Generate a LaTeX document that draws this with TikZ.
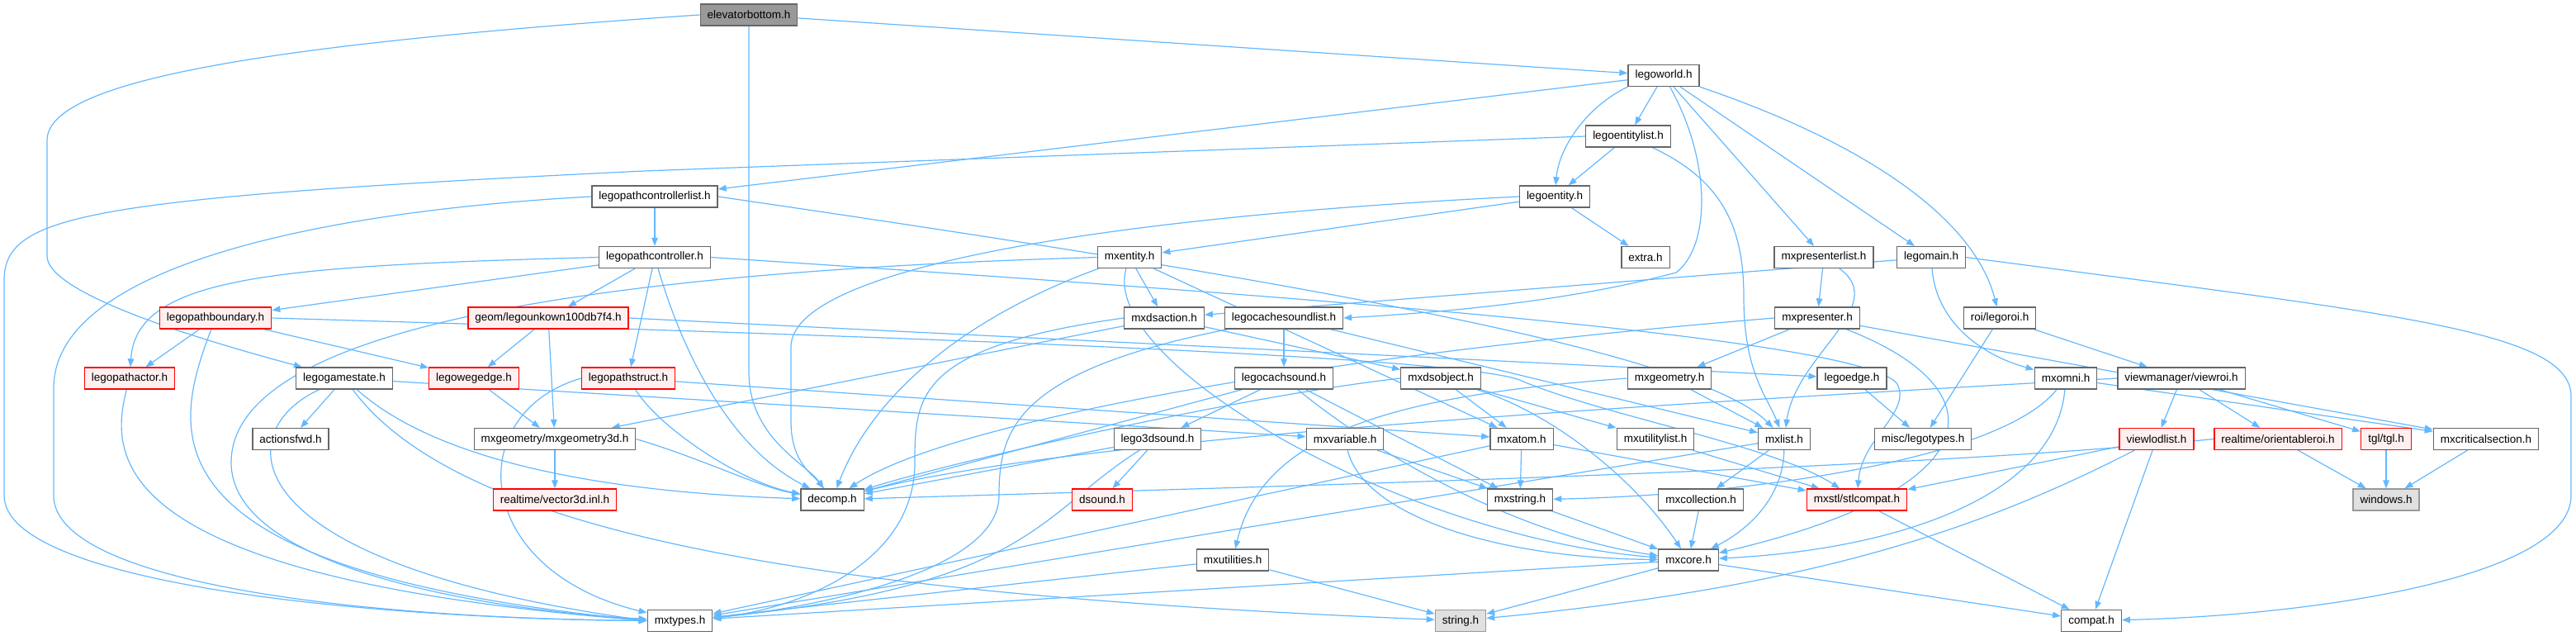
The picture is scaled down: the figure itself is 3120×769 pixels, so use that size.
\documentclass[tikz,border=0pt]{standalone}
\usepackage{fontspec}
\setmainfont{Liberation Sans}
\usetikzlibrary{arrows.meta}
\definecolor{edgec}{HTML}{63B8FF}
\definecolor{bordc}{HTML}{666666}
\definecolor{redfill}{HTML}{FFF0F0}
\definecolor{rootfill}{HTML}{999999}
\definecolor{extfill}{HTML}{E0E0E0}
\definecolor{extbord}{HTML}{999999}
\pgfdeclarelayer{bg}
\pgfsetlayers{bg,main}
\tikzset{
  hbox/.style={draw=bordc, fill=white, line width=1.3pt, minimum height=26pt, inner xsep=8.5pt, inner ysep=0pt, font=\fontsize{13.5pt}{16pt}\selectfont, text=black},
  redbox/.style={hbox, draw=red, fill=redfill},
  rootbox/.style={hbox, fill=rootfill},
  extbox/.style={hbox, draw=extbord, fill=extfill},
  dep/.style={draw=edgec, line width=1.2pt, -{Triangle[length=10pt,width=7.5pt]}},
}
\begin{document}
\begin{tikzpicture}[x=1pt,y=-1pt]
\useasboundingbox (0,0) rectangle (3120,769);
% row 0
\node[rootbox] (eb) at (907,18) {elevatorbottom.h};
% row 1
\node[hbox] (lw) at (2015,91.5) {legoworld.h};
% row 2
\node[hbox] (lel) at (1972,165) {legoentitylist.h};
% row 3
\node[hbox] (lpcl) at (793,238) {legopathcontrollerlist.h};
\node[hbox] (le) at (1883,238) {legoentity.h};
% row 4
\node[hbox] (lpc) at (793,311.5) {legopathcontroller.h};
\node[hbox] (mxe) at (1368,311.5) {mxentity.h};
\node[hbox] (extra) at (1993,311.5) {extra.h};
\node[hbox] (mpl) at (2209,311.5) {mxpresenterlist.h};
\node[hbox] (lm) at (2339,311.5) {legomain.h};
% row 5
\node[redbox] (lpb) at (261,385) {legopathboundary.h};
\node[redbox] (geom) at (664,385) {geom/legounkown100db7f4.h};
\node[hbox] (mda) at (1410,385) {mxdsaction.h};
\node[hbox] (lcsl) at (1555,385) {legocachesoundlist.h};
\node[hbox] (mp) at (2201,385) {mxpresenter.h};
\node[hbox] (roi) at (2422,385) {roi/legoroi.h};
% row 6
\node[redbox] (lpa) at (157,458) {legopathactor.h};
\node[hbox] (lgs) at (417,458) {legogamestate.h};
\node[redbox] (lwe) at (574,458) {legowegedge.h};
\node[redbox] (lps) at (761,458) {legopathstruct.h};
\node[hbox] (lcs) at (1555,458) {legocachsound.h};
\node[hbox] (mdo) at (1745,458) {mxdsobject.h};
\node[hbox] (mg) at (2022,458) {mxgeometry.h};
\node[hbox] (ledge) at (2243,458) {legoedge.h};
\node[hbox] (momni) at (2502,458) {mxomni.h};
\node[hbox] (vroi) at (2642,458) {viewmanager/viewroi.h};
% row 7
\node[hbox] (afwd) at (352,531.5) {actionsfwd.h};
\node[hbox] (mg3) at (672,531.5) {mxgeometry/mxgeometry3d.h};
\node[hbox] (l3d) at (1402,531.5) {lego3dsound.h};
\node[hbox] (mvar) at (1629,531.5) {mxvariable.h};
\node[hbox] (matom) at (1843,531.5) {mxatom.h};
\node[hbox] (mul) at (2005,531.5) {mxutilitylist.h};
\node[hbox] (mlist) at (2161,531.5) {mxlist.h};
\node[hbox] (mlt) at (2329,531.5) {misc/legotypes.h};
\node[redbox] (vlod) at (2612,531.5) {viewlodlist.h};
\node[redbox] (oroi) at (2759,531.5) {realtime/orientableroi.h};
\node[redbox] (tgl) at (2890,531.5) {tgl/tgl.h};
\node[hbox] (mcs) at (3011,531.5) {mxcriticalsection.h};
% row 8
\node[redbox] (v3d) at (672,605) {realtime/vector3d.inl.h};
\node[hbox] (decomp) at (1008,605) {decomp.h};
\node[redbox] (dsound) at (1335,605) {dsound.h};
\node[hbox] (mstr) at (1841,605) {mxstring.h};
\node[hbox] (mcol) at (2060,605) {mxcollection.h};
\node[redbox] (stl) at (2249,605) {mxstl/stlcompat.h};
\node[extbox] (win) at (2890,605) {windows.h};
% row 9
\node[hbox] (mutil) at (1493,678) {mxutilities.h};
\node[hbox] (mcore) at (2045,678) {mxcore.h};
% row 10
\node[hbox] (mtypes) at (823.5,751.5) {mxtypes.h};
\node[extbox] (str) at (1769,751.5) {string.h};
\node[hbox] (compat) at (2533,751.5) {compat.h};

\begin{pgfonlayer}{bg}
% elevatorbottom
\draw[dep] (eb) -- (lw);
\draw[dep] (eb.south) -- (907,450) .. controls (907,530) and (975,560) .. (decomp);
\draw[dep] (eb.west) .. controls (300,55) and (57,100) .. (57,170) -- (57,310) .. controls (57,350) and (200,400) .. (lgs);
% legoworld
\draw[dep] (lw) -- (lel);
\draw[dep] (lw.south west) .. controls (1920,130) and (1888,180) .. (le);
\draw[dep] (lw) -- (lpcl);
\draw[dep] (lw) -- (mpl);
\draw[dep] (lw) -- (lm);
\draw[dep] (lw.south east) .. controls (2250,170) and (2390,260) .. (roi);
\draw[dep] (lw) .. controls (2075,200) and (2070,300) .. (2030,330) .. controls (1900,365) and (1750,378) .. (lcsl.east);
% legoentitylist
\draw[dep] (lel) -- (le);
\draw[dep] (lel) .. controls (2090,220) and (2112,280) .. (2112,360) .. controls (2112,450) and (2140,480) .. (mlist);
\draw[dep] (lel.west) -- (780,207) .. controls (100,240) and (5,260) .. (5,340) -- (5,600) .. controls (5,700) and (400,748) .. (mtypes.west);
% legoentity
\draw[dep] (le) -- (extra);
\draw[dep] (le) -- (mxe);
\draw[dep] (le.west) .. controls (1300,265) and (958,330) .. (958,420) -- (958,510) .. controls (958,560) and (985,575) .. (decomp);
% legopathcontrollerlist
\draw[dep] (lpcl) -- (lpc);
\draw[dep] (lpcl.east) .. controls (1500,330) and (2050,420) .. (mlist);
\draw[dep] (lpcl.west) .. controls (400,255) and (65,320) .. (65,470) -- (65,600) .. controls (65,700) and (400,748) .. (mtypes.west);
% legopathcontroller
\draw[dep] (lpc) -- (lpb);
\draw[dep] (lpc) -- (geom);
\draw[dep] (lpc.west) .. controls (330,322) and (165,335) .. (lpa);
\draw[dep] (lpc) -- (lps);
\draw[dep] (lpc) .. controls (825,420) and (880,540) .. (decomp);
\draw[dep] (lpc.east) .. controls (1600,360) and (2260,410) .. (2298,465) .. controls (2315,500) and (2255,530) .. (stl);
% legopathboundary
\draw[dep] (lpb) -- (lpa);
\draw[dep] (lpb) -- (lwe);
\draw[dep] (lpb) .. controls (210,520) and (160,690) .. (mtypes.west);
\draw[dep] (lpb.east) .. controls (1000,405) and (1790,430) .. (1845,462) .. controls (1950,505) and (2150,540) .. (stl);
% geom
\draw[dep] (geom) -- (lwe);
\draw[dep] (geom) -- (mg3);
\draw[dep] (geom.east) -- (ledge);
% legopathactor
\draw[dep] (lpa) .. controls (130,560) and (140,700) .. (mtypes.west);
% legogamestate
\draw[dep] (lgs) -- (afwd);
\draw[dep] (lgs) -- (mvar);
\draw[dep] (lgs) .. controls (280,520) and (270,680) .. (mtypes.west);
\draw[dep] (lgs) .. controls (520,550) and (700,595) .. (decomp);
\draw[dep] (lgs) .. controls (560,650) and (1000,720) .. (str);
% legowegedge
\draw[dep] (lwe) -- (mg3);
% legopathstruct
\draw[dep] (lps) -- (matom);
\draw[dep] (lps) .. controls (800,520) and (900,585) .. (decomp);
\draw[dep] (lps.west) .. controls (560,500) and (570,690) .. (mtypes);
% mxgeometry3d
\draw[dep] (mg3) -- (v3d);
\draw[dep] (mg3.east) .. controls (850,555) and (920,590) .. (decomp);
% mxentity
\draw[dep] (mxe) -- (mda);
\draw[dep] (mxe) -- (matom);
\draw[dep] (mxe) .. controls (1180,380) and (1060,470) .. (decomp);
\draw[dep] (mxe) .. controls (1330,440) and (1700,650) .. (mcore);
\draw[dep] (mxe.west) .. controls (700,330) and (280,400) .. (280,560) .. controls (280,690) and (600,740) .. (mtypes);
% mxdsaction
\draw[dep] (mda) -- (mdo);
\draw[dep] (mda) -- (mg3);
\draw[dep] (mda.west) .. controls (1110,420) and (1108,480) .. (1108,560) .. controls (1108,690) and (950,740) .. (mtypes);
% legocachesoundlist
\draw[dep] (lcsl) -- (lcs);
\draw[dep] (lcsl) -- (mlist);
\draw[dep] (lcsl) .. controls (1230,450) and (1210,520) .. (1210,600) .. controls (1210,700) and (950,740) .. (mtypes);
% legocachsound
\draw[dep] (lcs) -- (decomp);
\draw[dep] (lcs) -- (l3d);
\draw[dep] (lcs) -- (mstr);
\draw[dep] (lcs) .. controls (1680,560) and (1850,650) .. (mcore);
% mxdsobject
\draw[dep] (mdo) -- (matom);
\draw[dep] (mdo) -- (mul);
\draw[dep] (mdo.west) .. controls (1500,480) and (1150,560) .. (decomp);
\draw[dep] (mdo) .. controls (1880,500) and (1980,580) .. (mcore);
% mxgeometry
\draw[dep] (mg) -- (mlist);
\draw[dep] (mg.west) .. controls (1700,478) and (1530,520) .. (mutil);
% legoedge
\draw[dep] (ledge) -- (mlt);
% mxpresenterlist
\draw[dep] (mpl) -- (mp);
\draw[dep] (mpl) .. controls (2290,370) and (2175,430) .. (mlist);
% legomain
\draw[dep] (lm) -- (mda);
\draw[dep] (lm) .. controls (2345,390) and (2400,430) .. (momni);
\draw[dep] (lm.east) .. controls (2900,380) and (3114,400) .. (3114,480) -- (3114,600) .. controls (3114,700) and (2800,745) .. (compat);
% mxpresenter
\draw[dep] (mp) -- (mg);
\draw[dep] (mp) -- (mcs);
\draw[dep] (mp.west) .. controls (1600,430) and (1150,510) .. (decomp);
\draw[dep] (mp) .. controls (2420,470) and (2420,590) .. (mcore);
% roi
\draw[dep] (roi) -- (mlt);
\draw[dep] (roi) -- (vroi);
% mxomni
\draw[dep] (momni) -- (mcs);
\draw[dep] (momni) .. controls (2420,560) and (2100,600) .. (mstr);
\draw[dep] (momni) .. controls (2490,600) and (2300,665) .. (mcore);
% viewroi
\draw[dep] (vroi) -- (vlod);
\draw[dep] (vroi) -- (oroi);
\draw[dep] (vroi) -- (tgl);
\draw[dep] (vroi.west) .. controls (2000,490) and (1300,530) .. (decomp);
% mxvariable
\draw[dep] (mvar) -- (mstr);
\draw[dep] (mvar) .. controls (1650,620) and (1800,675) .. (mcore);
% mxatom
\draw[dep] (matom) -- (mstr);
\draw[dep] (matom) -- (stl);
\draw[dep] (matom) -- (mtypes);
% mxutilitylist
\draw[dep] (mul) -- (stl);
% mxlist
\draw[dep] (mlist) -- (mcol);
\draw[dep] (mlist) .. controls (2160,600) and (2120,640) .. (mcore);
\draw[dep] (mlist) -- (mtypes);
% lego3dsound
\draw[dep] (l3d) -- (decomp);
\draw[dep] (l3d) -- (dsound);
\draw[dep] (l3d) .. controls (1260,620) and (1250,710) .. (mtypes);
% viewlodlist
\draw[dep] (vlod) -- (compat);
\draw[dep] (vlod) -- (stl);
\draw[dep] (vlod) .. controls (2400,640) and (2200,710) .. (str);
% orientableroi
\draw[dep] (oroi) -- (win);
\draw[dep] (oroi.west) .. controls (2300,570) and (1500,590) .. (decomp);
% tgl, mxcriticalsection
\draw[dep] (tgl) -- (win);
\draw[dep] (mcs) -- (win);
% bottom
\draw[dep] (mstr) -- (mcore);
\draw[dep] (mcol) -- (mcore);
\draw[dep] (stl) -- (compat);
\draw[dep] (mcore) -- (compat);
\draw[dep] (mcore) -- (mtypes);
\draw[dep] (mcore) -- (str);
\draw[dep] (mutil) -- (mtypes);
\draw[dep] (mutil) -- (str);
\end{pgfonlayer}
\end{tikzpicture}
\end{document}
